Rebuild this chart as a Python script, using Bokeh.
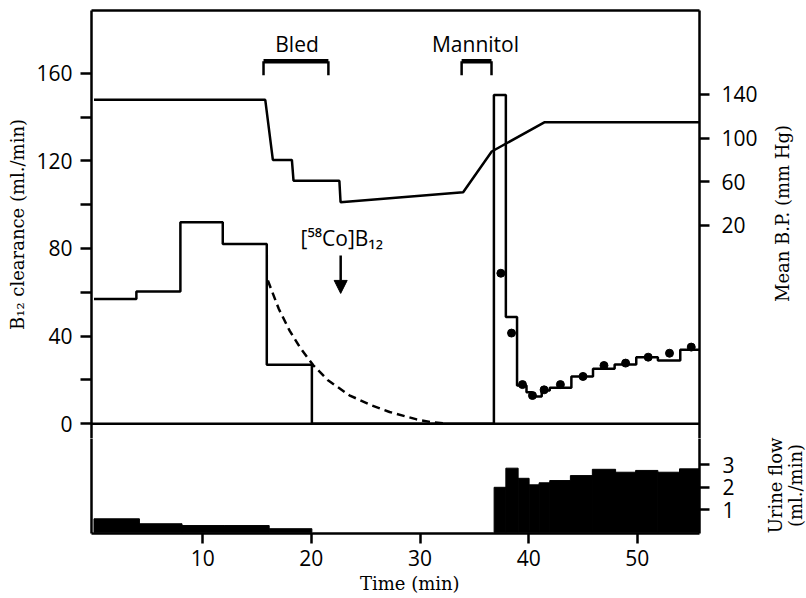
import math
from bokeh.plotting import figure
from bokeh.models import Range1d, LinearAxis, FixedTicker, Label, Arrow, NormalHead
from bokeh.layouts import column, row
from bokeh.core.properties import value
from bokeh.embed import file_html
from bokeh.resources import INLINE

# ---------------- data ----------------
# B12 clearance (ml./min), step series: value i holds from edge i to edge i+1
clear_edges = [0.0, 3.9, 7.95, 11.85, 15.9, 20.05, 36.8, 37.9, 38.93, 39.8, 40.3,
               41.2, 41.94, 43.93, 45.92, 47.91, 49.9, 51.89, 53.95, 55.72]
clear_values = [57.0, 60.4, 92.0, 82.0, 27.0, 0.0, 150.0, 48.7, 17.5, 14.4, 12.5,
                15.2, 16.4, 21.6, 25.1, 27.1, 30.4, 28.9, 33.8]

# [58Co]B12 clearance points (dots)
dot_time = [37.44, 38.42, 39.43, 40.35, 41.42, 42.92, 45.0, 46.93, 48.92, 51.0, 52.96, 54.96]
dot_clear = [68.7, 41.4, 17.9, 12.9, 15.5, 17.9, 21.6, 26.6, 27.7, 30.4, 32.2, 35.0]

# dashed decay curve
dash_time = [16.0, 17.0, 18.0, 19.0, 20.2, 21.5, 23.5, 25.5, 27.2, 29.7, 31.0, 32.5]
dash_clear = [65.4, 52.5, 42.5, 34.5, 26.6, 20.0, 13.0, 8.5, 5.4, 2.0, 0.8, 0.0]

# mean blood pressure (mm Hg)
bp_time = [0.0, 15.76, 16.46, 18.21, 18.36, 22.58, 22.69, 33.97, 36.6, 41.48, 55.72]
bp_mmhg = [135, 135, 80, 80, 61, 61, 41.3, 50.5, 87.7, 114.6, 114.6]

# urine flow (ml./min) per collection period
urine_left = [0.0, 4.18, 8.1, 12.0, 16.12, 36.82, 37.9, 39.03, 40.04, 40.96, 41.94,
              43.84, 45.86, 48.0, 49.84, 51.89, 53.88]
urine_right = [4.18, 8.1, 12.0, 16.12, 20.05, 37.9, 39.03, 40.04, 40.96, 41.94, 43.84,
               45.86, 48.0, 49.84, 51.89, 53.88, 55.72]
urine_flow = [0.6, 0.38, 0.3, 0.3, 0.16, 2.0, 2.85, 2.4, 2.11, 2.2, 2.3, 2.52, 2.8,
              2.67, 2.75, 2.67, 2.82]

# events
bled_period = (15.6, 21.57)
mannitol_period = (33.83, 36.58)
co_injection_time = 22.7

clear_ticks = [0, 40, 80, 120, 160]
clear_minor = [20, 60, 100, 140]
bp_ticks = [20, 60, 100, 140]
urine_ticks = [1, 2, 3]
time_ticks = [10, 20, 30, 40, 50]

# right-hand titles (read bottom-to-top)
right_titles = ["Mean B.P. (mm Hg)", "Urine flow", "(ml./min)"]

# ---------------- styling ----------------
SANS = "Open Sans"
SERIF = "DejaVu Serif"
LW = 2.5


def style_axis(ax, tick_out=11, standoff=8, label_standoff=5):
    ax.axis_line_width = LW
    ax.axis_line_color = "black"
    ax.major_tick_line_width = LW
    ax.major_tick_line_color = "black"
    ax.major_tick_in = 0
    ax.major_tick_out = tick_out
    ax.minor_tick_line_width = LW
    ax.minor_tick_line_color = "black"
    ax.minor_tick_in = 0
    ax.minor_tick_out = tick_out
    ax.major_label_text_font = SANS
    ax.major_label_text_font_size = "21px"
    ax.major_label_text_color = "black"
    ax.major_label_standoff = standoff
    ax.axis_label_text_font = SERIF
    ax.axis_label_text_font_style = "normal"
    ax.axis_label_text_font_size = "18px"
    ax.axis_label_text_color = "black"
    ax.axis_label_standoff = label_standoff


def plain_axis(ax):
    ax.ticker = FixedTicker(ticks=[])
    ax.axis_line_width = LW
    ax.axis_line_color = "black"
    ax.major_tick_line_color = None
    ax.minor_tick_line_color = None
    ax.major_label_text_font_size = "0px"


x_range = Range1d(-0.23, 55.72)
PLOT_W = 760

# ---------------- top panel ----------------
p1 = figure(width=PLOT_W, height=438, x_range=x_range, y_range=Range1d(-6.71, 188.6),
            output_backend="svg", toolbar_location=None, x_axis_location="above",
            min_border_left=91, min_border_right=60, min_border_top=10, min_border_bottom=0)
p1.outline_line_color = None
p1.grid.visible = False
p1.background_fill_color = "white"
p1.border_fill_color = "white"
p1.extra_y_ranges = {"bp": Range1d(-175.0, 216.8)}

plain_axis(p1.xaxis[0])

ly = p1.yaxis[0]
style_axis(ly, tick_out=11, standoff=8, label_standoff=5)
ly.ticker = FixedTicker(ticks=clear_ticks, minor_ticks=clear_minor)
ly.axis_label = "B\u2081\u2082 clearance (ml./min)"

ry = LinearAxis(y_range_name="bp", ticker=FixedTicker(ticks=bp_ticks))
style_axis(ry, tick_out=10, standoff=12)
p1.add_layout(ry, "right")

# zero line separating the panels
p1.line([x_range.start, x_range.end], [0, 0], line_color="black", line_width=LW)

p1.step(x=clear_edges, y=clear_values + [clear_values[-1]], mode="after",
        line_color="black", line_width=LW)
p1.line(dash_time, dash_clear, line_color="black", line_width=LW, line_dash="8 5")
p1.scatter(dot_time, dot_clear, size=8, color="black")
p1.line(bp_time, bp_mmhg, y_range_name="bp", line_color="black", line_width=LW)

# brackets
BR_TOP, BR_BOT = 165.4, 159.0
for (a, b) in (bled_period, mannitol_period):
    p1.line([a, a], [BR_BOT, BR_TOP], line_color="black", line_width=LW)
    p1.line([b, b], [BR_BOT, BR_TOP], line_color="black", line_width=LW)
    p1.line([a, b], [BR_TOP, BR_TOP], line_color="black", line_width=4.5)

for txt, xc in (("Bled", sum(bled_period) / 2 + 0.1), ("Mannitol", sum(mannitol_period) / 2 - 0.1)):
    p1.add_layout(Label(x=xc, y=173.3, text=txt, text_align="center",
                        text_baseline="alphabetic", text_font=SANS,
                        text_font_size="21px", text_color="black"))

p1.add_layout(Label(x=co_injection_time + 0.1, y=84.6, text="[\u2075\u2078Co]B\u2081\u2082",
                    text_align="center", text_baseline="alphabetic", text_font=SANS,
                    text_font_size="21px", text_color="black"))
p1.add_layout(Arrow(end=NormalHead(size=13, fill_color="black", line_color="black"),
                    x_start=co_injection_time, y_start=76.8,
                    x_end=co_injection_time, y_end=59.5,
                    line_color="black", line_width=LW))

# ---------------- bottom panel ----------------
p2 = figure(width=PLOT_W, height=160, x_range=x_range, y_range=Range1d(-0.053, 4.169),
            output_backend="svg", toolbar_location=None, y_axis_location="right",
            min_border_left=91, min_border_right=60, min_border_top=0, min_border_bottom=65)
p2.outline_line_color = None
p2.grid.visible = False
p2.background_fill_color = "white"
p2.border_fill_color = "white"

p2.quad(left=urine_left, right=urine_right, top=urine_flow, bottom=0,
        fill_color="black", line_color="black")

uy = p2.yaxis[0]
style_axis(uy, tick_out=10, standoff=13)
uy.ticker = FixedTicker(ticks=urine_ticks)

bx = p2.xaxis[0]
style_axis(bx, tick_out=10, standoff=6, label_standoff=4)
bx.ticker = FixedTicker(ticks=time_ticks)
bx.axis_label = "\u00a0" * 5 + "Time (min)"

left2 = LinearAxis()
plain_axis(left2)
p2.add_layout(left2, "left")

# ---------------- strip on the right holding the vertical titles ----------------
STRIP_W = 806 - PLOT_W
p3 = figure(width=STRIP_W, height=598, x_range=Range1d(0, STRIP_W), y_range=Range1d(0, 598),
            output_backend="svg", toolbar_location=None,
            x_axis_location=None, y_axis_location=None,
            min_border_left=0, min_border_right=0, min_border_top=0, min_border_bottom=0)
p3.outline_line_color = None
p3.grid.visible = False
p3.background_fill_color = "white"
p3.border_fill_color = "white"
p3.text(x=[22, 15, 35], y=[385, 113, 113], text=right_titles, angle=math.pi / 2,
        text_align="center", text_baseline="middle", text_font=value(SERIF),
        text_font_size="18px", text_color="black")

layout = row(column(p1, p2), p3)
open("out.html", "w").write(file_html(layout, INLINE))
